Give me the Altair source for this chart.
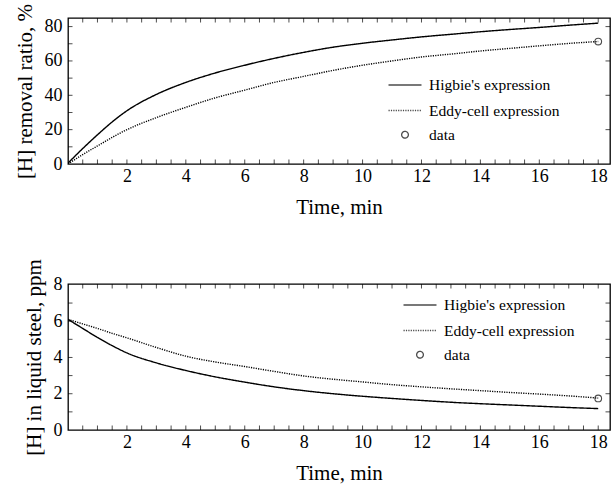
import altair as alt
import pandas as pd

# ---------------- data ----------------
time_min = [0, 0.5, 1, 1.5, 2, 3, 4, 5, 6, 7, 8, 9, 10, 11, 12, 13, 14, 15, 16, 17, 18]
higbie_removal = [0.5, 9, 17, 24.5, 31, 40.5, 47.5, 53, 57.5, 61.5, 65, 68, 70.3, 72.2, 74,
                  75.5, 77, 78.3, 79.5, 80.8, 82]
eddy_removal = [0, 5.5, 10.5, 15.5, 20, 27, 33, 38.5, 43, 47.5, 51, 54.5, 57.5, 60, 62.3,
                64, 65.8, 67.3, 68.8, 70.2, 71.3]
higbie_ppm = [6.1, 5.6, 5.1, 4.65, 4.25, 3.7, 3.28, 2.93, 2.64, 2.38, 2.17, 2.0, 1.86, 1.74,
              1.63, 1.53, 1.45, 1.38, 1.31, 1.24, 1.18]
eddy_ppm = [6.1, 5.85, 5.6, 5.33, 5.08, 4.55, 4.07, 3.75, 3.5, 3.23, 2.98, 2.8, 2.65, 2.5,
            2.38, 2.27, 2.17, 2.07, 1.98, 1.88, 1.76]
data_time = [18]
data_removal = [71.3]
data_ppm = [1.74]

SERIES = ["Higbie's expression", "Eddy-cell expression", "data"]

x_labels = [2, 4, 6, 8, 10, 12, 14, 16, 18]
x_ticks = [0.5, 1, 1.5, 2, 2.5, 3, 3.5, 4, 4.5, 5, 5.5, 6, 6.5, 7, 7.5, 8, 8.5, 9, 9.5,
           10, 10.5, 11, 11.5, 12, 12.5, 13, 13.5, 14, 14.5, 15, 15.5, 16, 16.5, 17, 17.5, 18]
top_y_labels = [0, 20, 40, 60, 80]
top_y_ticks_left = [10, 20, 30, 40, 50, 60, 70, 80]
top_y_ticks_right = [20, 40, 60, 80]
bot_y_labels = [0, 2, 4, 6, 8]
bot_y_ticks = [1, 2, 3, 4, 5, 6, 7]

X_DOMAIN = [0, 18.4]
TOP_DOMAIN = [0, 85]
BOT_DOMAIN = [0, 8.05]

FONT = "Liberation Serif"
LINE_SYMBOL = "M-2,0H2"


def curves(y1, y2):
    rows = []
    for name, ys in ((SERIES[0], y1), (SERIES[1], y2)):
        for t, v in zip(time_min, ys):
            rows.append({"t": t, "v": v, "series": name})
    return pd.DataFrame(rows)


def panel(curve_df, pts_df, ydom, ylabels, yticks_left, yticks_right, ytitle, lx, ly):
    xscale = alt.Scale(domain=X_DOMAIN, nice=False, zero=False)
    yscale = alt.Scale(domain=ydom, nice=False, zero=False)
    axis_common = dict(ticks=False, domain=False, grid=False, labelFont=FONT,
                       labelFontSize=18, labelColor="black", titleFont=FONT,
                       titleFontSize=21, titleFontWeight="normal", titleColor="black",
                       labelOverlap=False)
    xaxis = alt.Axis(values=x_labels, title="Time, min", labelPadding=3, titlePadding=11,
                     **axis_common)
    yaxis = alt.Axis(values=ylabels, title=ytitle, labelPadding=6, titlePadding=9,
                     **axis_common)
    xenc = alt.X("t:Q", scale=xscale, axis=xaxis)
    yenc = alt.Y("v:Q", scale=yscale, axis=yaxis)
    leg = dict(orient="none", legendX=lx, legendY=ly, title=None, labelFont=FONT,
               labelFontSize=15.5, labelColor="black", rowPadding=7.5, labelOffset=15,
               symbolStrokeColor="black", symbolStrokeWidth=1.3, padding=0)
    dash = alt.StrokeDash("series:N",
                          scale=alt.Scale(domain=SERIES, range=[[1, 0], [1.2, 1.2], [1, 0]]),
                          legend=alt.Legend(**leg))
    lines = alt.Chart(curve_df).mark_line(color="black", strokeWidth=1.4, clip=True,
                                          interpolate="monotone").encode(
        x=xenc, y=yenc, strokeDash=dash)
    pts = alt.Chart(pts_df).mark_point(color="black", filled=False, strokeWidth=1.1).encode(
        x=xenc, y=yenc,
        shape=alt.Shape("series:N", scale=alt.Scale(domain=SERIES,
                                                     range=[LINE_SYMBOL, LINE_SYMBOL, "circle"]),
                        legend=alt.Legend(**leg)),
        size=alt.Size("series:N", scale=alt.Scale(type="ordinal", domain=SERIES,
                                                  range=[272, 272, 45]),
                      legend=alt.Legend(**leg)))

    xt = pd.DataFrame({"t": x_ticks})
    tick = dict(size=9, thickness=1, clip=True, color="black")
    tb = alt.Chart(xt).mark_tick(orient="vertical", **tick).encode(
        x=xenc, y=alt.YDatum(ydom[0], scale=yscale, axis=yaxis))
    tt = alt.Chart(xt).mark_tick(orient="vertical", **tick).encode(
        x=xenc, y=alt.YDatum(ydom[1], scale=yscale, axis=yaxis))
    yl = alt.Chart(pd.DataFrame({"v": yticks_left})).mark_tick(
        orient="horizontal", **tick).encode(
        y=yenc, x=alt.XDatum(X_DOMAIN[0], scale=xscale, axis=xaxis))
    yr = alt.Chart(pd.DataFrame({"v": yticks_right})).mark_tick(
        orient="horizontal", **tick).encode(
        y=yenc, x=alt.XDatum(X_DOMAIN[1], scale=xscale, axis=xaxis))
    return alt.layer(lines, pts, tb, tt, yl, yr).properties(width=542, height=146)


top = panel(curves(higbie_removal, eddy_removal),
            pd.DataFrame({"t": data_time, "v": data_removal, "series": ["data"]}),
            TOP_DOMAIN, top_y_labels, top_y_ticks_left, top_y_ticks_right,
            "[H] removal ratio, %", 328, 58)
bottom = panel(curves(higbie_ppm, eddy_ppm),
               pd.DataFrame({"t": data_time, "v": data_ppm, "series": ["data"]}),
               BOT_DOMAIN, bot_y_labels, bot_y_ticks, bot_y_ticks,
               "[H] in liquid steel, ppm", 343, 12)

chart = alt.vconcat(top, bottom, spacing=40).resolve_scale(
    strokeDash="independent", shape="independent", size="independent"
).resolve_legend(
    strokeDash="independent", shape="independent", size="independent"
).properties(
    padding={"left": 13, "top": 2, "right": 0, "bottom": 0}
).configure(font=FONT, background="white").configure_view(
    stroke="black", strokeWidth=1.3
).configure_legend(
    labelFont=FONT, labelFontSize=15.5, labelColor="black"
)

chart.save("out.html", embed_options={"renderer": "svg", "actions": False})
